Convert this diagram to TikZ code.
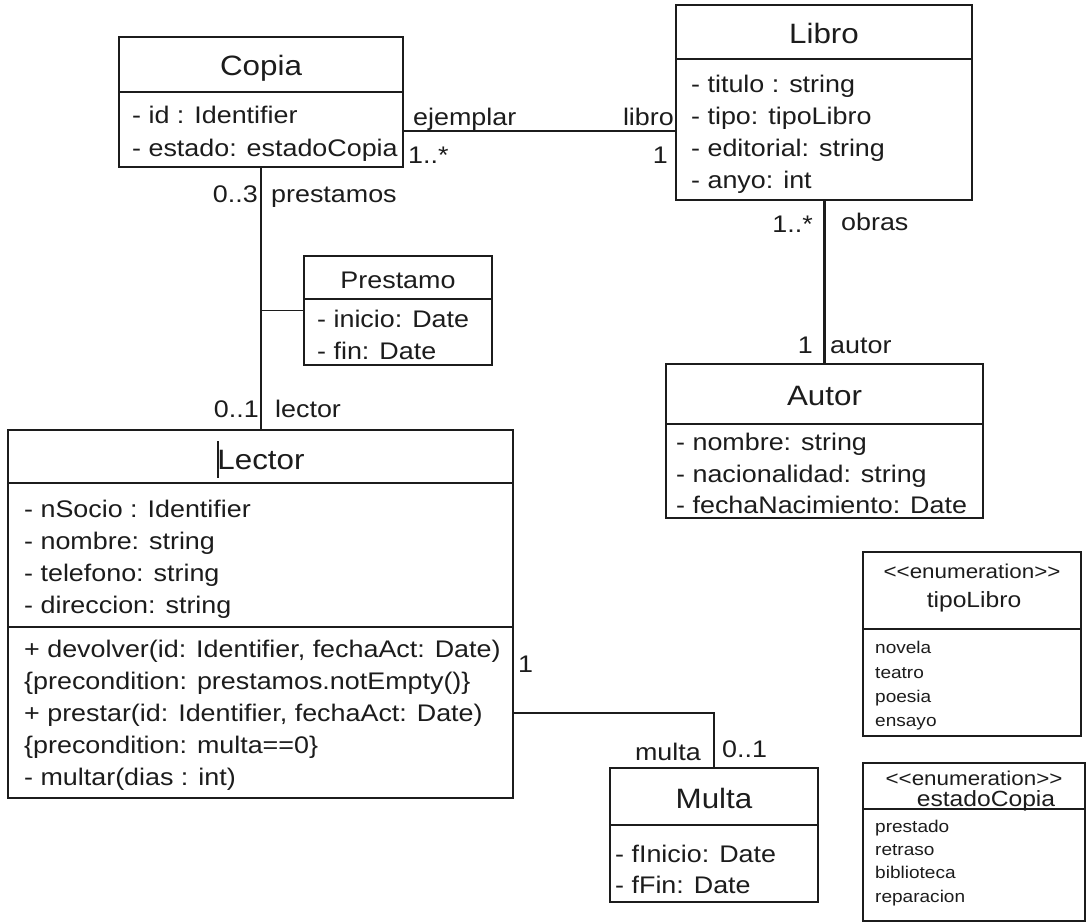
\documentclass[tikz,border=0pt]{standalone}
\usepackage{fontspec}
\setmainfont{Liberation Sans}[FakeStretch=1.12]
\definecolor{ink}{HTML}{1C1C1C}
\newcommand\umlTitleFont{\fontsize{28}{32}\selectfont}
\newcommand\umlAttrFont{\fontsize{24}{32}\selectfont}
\newcommand\umlEnumHeadFont{\fontsize{20}{24}\selectfont}
\newcommand\umlEnumNameFont{\fontsize{22}{24}\selectfont}
\newcommand\umlEnumItemFont{\fontsize{17}{20}\selectfont}
\newcommand\stereo{<\kern0pt<enumeration>\kern0pt>}
\begin{document}
\begin{tikzpicture}[x=1pt, y=-1pt,
  umlbox/.style={draw=ink, line width=2.6pt, inner sep=0pt, outer sep=0pt},
  enumbox/.style={draw=ink, line width=2.2pt, inner sep=0pt, outer sep=0pt},
  sep/.style={draw=ink, line width=#1},
  sep/.default=2.4pt,
  assoc/.style={draw=ink, line width=#1},
  assoc/.default=2pt,
  title/.style={font=\umlTitleFont, text=ink, inner sep=0pt, anchor=base},
  attr/.style={font=\umlAttrFont, text=ink, inner sep=0pt, anchor=base west},
  lbl/.style={font=\umlAttrFont, text=ink, inner sep=0pt},
  ehead/.style={font=\umlEnumHeadFont, text=ink, inner sep=0pt, anchor=base},
  ename/.style={font=\umlEnumNameFont, text=ink, inner sep=0pt, anchor=base},
  eitem/.style={font=\umlEnumItemFont, text=ink, inner sep=0pt, anchor=base west}]
\useasboundingbox (0,0) rectangle (1086,922);
\fill[white] (0,0) rectangle (1086,922);

% ---------- Copia ----------
\node[umlbox, minimum width=284pt, minimum height=130pt] (copia) at (261,102) {};
\draw[sep] (copia.west |- 0,92) -- (copia.east |- 0,92);
\node[title] (copia-t) at (261,75) {Copia};
\node[attr] (copia-a1) at (132,123) {- id : Identifier};
\node[attr] (copia-a2) at (132,156) {- estado: estadoCopia};

% ---------- Libro ----------
\node[umlbox, minimum width=296pt, minimum height=195pt] (libro) at (824,102.5) {};
\draw[sep] (libro.west |- 0,59) -- (libro.east |- 0,59);
\node[title] (libro-t) at (824,43) {Libro};
\node[attr] (libro-a1) at (691,92) {- titulo : string};
\node[attr] (libro-a2) at (691,124) {- tipo: tipoLibro};
\node[attr] (libro-a3) at (691,156) {- editorial: string};
\node[attr] (libro-a4) at (691,188) {- anyo: int};

% ---------- Prestamo (association class) ----------
\node[umlbox, minimum width=188pt, minimum height=109pt] (prestamo) at (398,310.5) {};
\draw[sep=1.4pt] (prestamo.west |- 0,299) -- (prestamo.east |- 0,299);
\node[title, font=\umlAttrFont] (prestamo-t) at (398,288) {Prestamo};
\node[attr] (prestamo-a1) at (317,327) {- inicio: Date};
\node[attr] (prestamo-a2) at (317,359) {- fin: Date};

% ---------- Lector ----------
\node[umlbox, minimum width=505pt, minimum height=368pt] (lector) at (260.5,614) {};
\draw[sep=2.6pt] (lector.west |- 0,483) -- (lector.east |- 0,483);
\draw[sep=2.6pt] (lector.west |- 0,627) -- (lector.east |- 0,627);
\node[title] (lector-t) at (261,469) {Lector};
\draw[ink, line width=2pt] (218,441) -- (218,478);
\node[attr] (lector-a1) at (24,517) {- nSocio : Identifier};
\node[attr] (lector-a2) at (24,549) {- nombre: string};
\node[attr] (lector-a3) at (24,581) {- telefono: string};
\node[attr] (lector-a4) at (24,613) {- direccion: string};
\node[attr] (lector-m1) at (24,657) {+ devolver(id: Identifier, fechaAct: Date)};
\node[attr] (lector-m2) at (24,689) {\{precondition: prestamos.notEmpty()\}};
\node[attr] (lector-m3) at (24,721) {+ prestar(id: Identifier, fechaAct: Date)};
\node[attr] (lector-m4) at (24,753) {\{precondition: multa==0\}};
\node[attr] (lector-m5) at (24,785) {- multar(dias : int)};

% ---------- Autor ----------
\node[umlbox, minimum width=317pt, minimum height=154pt] (autor) at (824.5,441) {};
\draw[sep=1.7pt] (autor.west |- 0,424) -- (autor.east |- 0,424);
\node[title] (autor-t) at (824.5,405) {Autor};
\node[attr] (autor-a1) at (676,450) {- nombre: string};
\node[attr] (autor-a2) at (676,482) {- nacionalidad: string};
\node[attr] (autor-a3) at (676,513) {- fechaNacimiento: Date};

% ---------- Multa ----------
\node[umlbox, minimum width=208pt, minimum height=134pt] (multa) at (714,835) {};
\draw[sep=2pt] (multa.west |- 0,825) -- (multa.east |- 0,825);
\node[title] (multa-t) at (714,808) {Multa};
\node[attr] (multa-a1) at (615,862) {- fInicio: Date};
\node[attr] (multa-a2) at (615,893) {- fFin: Date};

% ---------- enumeration tipoLibro ----------
\node[enumbox, minimum width=218pt, minimum height=184pt] (tipolibro) at (972,644) {};
\draw[sep=2pt] (tipolibro.west |- 0,629) -- (tipolibro.east |- 0,629);
\node[ehead] (tipolibro-s) at (972,578) {\stereo};
\node[ename] (tipolibro-t) at (974,607) {tipoLibro};
\node[eitem] (tipolibro-v1) at (875,653) {novela};
\node[eitem] (tipolibro-v2) at (875,678) {teatro};
\node[eitem] (tipolibro-v3) at (875,702) {poesia};
\node[eitem] (tipolibro-v4) at (875,726) {ensayo};

% ---------- enumeration estadoCopia ----------
\node[enumbox, minimum width=222pt, minimum height=158pt] (estadocopia) at (974,842) {};
\draw[sep=2pt] (estadocopia.west |- 0,809) -- (estadocopia.east |- 0,809);
\node[ehead] (estadocopia-s) at (974,785) {\stereo};
\node[ename] (estadocopia-t) at (986,806) {estadoCopia};
\node[eitem] (estadocopia-v1) at (875,832) {prestado};
\node[eitem] (estadocopia-v2) at (875,855) {retraso};
\node[eitem] (estadocopia-v3) at (875,878) {biblioteca};
\node[eitem] (estadocopia-v4) at (875,902) {reparacion};

% ---------- associations ----------
\draw[assoc] (copia.east |- 0,131) -- (libro.west |- 0,131);
\node[lbl, anchor=base west] (l-ejemplar) at (413,125) {ejemplar};
\node[lbl, anchor=base east] (l-libro) at (674,125) {libro};
\node[lbl, anchor=base west] (l-ejm) at (408,163) {1..*};
\node[lbl, anchor=base east] (l-libm) at (668,163) {1};

\draw[assoc=1.5pt] (copia.south) -- (copia.south |- lector.north);
\coordinate (loan) at (copia.south |- prestamo.west);
\draw[assoc=1.4pt] (loan) -- (prestamo.west);
\node[lbl, anchor=base east] (l-prm) at (258,202) {0..3};
\node[lbl, anchor=base west] (l-prestamos) at (271,202) {prestamos};
\node[lbl, anchor=base east] (l-lecm) at (259,417) {0..1};
\node[lbl, anchor=base west] (l-lector) at (275,417) {lector};

\draw[assoc=3pt] (libro.south) -- (libro.south |- autor.north);
\node[lbl, anchor=base east] (l-obm) at (813,232) {1..*};
\node[lbl, anchor=base west] (l-obras) at (841,230) {obras};
\node[lbl, anchor=base east] (l-aum) at (813,353) {1};
\node[lbl, anchor=base west] (l-autor) at (830,353) {autor};

\draw[assoc] (lector.east |- 0,713) -| (multa.north);
\node[lbl, anchor=base west] (l-lem) at (518,672) {1};
\node[lbl, anchor=base east] (l-multa) at (701,760) {multa};
\node[lbl, anchor=base west] (l-mum) at (722,757) {0..1};
\end{tikzpicture}
\end{document}
